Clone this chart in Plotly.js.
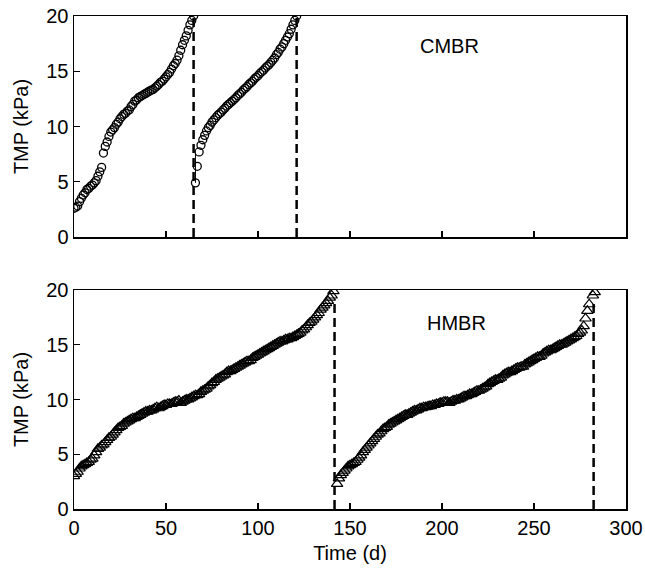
<!DOCTYPE html>
<html><head><meta charset="utf-8">
<script src="https://cdn.plot.ly/plotly-3.0.1.min.js"></script>
<style>body{margin:0;background:#fff}#chart{width:645px;height:571px}</style>
</head><body><div id="chart"></div>
<script>
// CMBR (top panel) – circles, two filtration cycles
const cmbrDay1 = [0,1,2,3,4,5,6,7,8,9,10,11,12,13,14,15,16,17,18,19,20,21,22,23,24,25,26,27,28,29,30,31,32,33,34,35,36,37,38,39,40,41,42,43,44,45,46,47,48,49,50,51,52,53,54,55,56,57,58,59,60,61,62,63,64,65];
const cmbrTmp1 = [2.6,2.7,2.8,3.2,3.5,3.8,4.0,4.3,4.4,4.6,4.7,4.9,5.1,5.5,5.9,6.3,7.6,8.2,8.6,9.1,9.5,9.7,9.9,10.2,10.4,10.7,10.9,11.1,11.2,11.4,11.5,11.8,12.0,12.3,12.4,12.6,12.7,12.8,12.9,13.0,13.1,13.2,13.3,13.35,13.5,13.65,13.8,14.0,14.1,14.3,14.5,14.7,14.9,15.2,15.5,15.7,16.0,16.4,16.9,17.4,17.8,18.2,18.7,19.2,19.6,20.0];
const cmbrDay2 = [66,67,68,69,70,71,72,73,74,75,76,77,78,79,80,81,82,83,84,85,86,87,88,89,90,91,92,93,94,95,96,97,98,99,100,101,102,103,104,105,106,107,108,109,110,111,112,113,114,115,116,117,118,119,120,121];
const cmbrTmp2 = [4.9,6.4,7.7,8.3,8.8,9.2,9.6,9.9,10.1,10.4,10.6,10.8,11.0,11.15,11.3,11.5,11.65,11.85,12.0,12.15,12.3,12.45,12.6,12.8,12.95,13.1,13.3,13.45,13.6,13.8,13.95,14.1,14.3,14.45,14.6,14.8,14.95,15.1,15.3,15.45,15.6,15.8,16.0,16.2,16.5,16.7,17.0,17.2,17.5,17.8,18.1,18.4,18.8,19.2,19.6,20.0];
const cmbrCleanDays = [65, 121];
const cmbrJumpX = [66, 66];
const cmbrJumpY = [4.9, 7.6];

// HMBR (bottom panel) – triangles, two filtration cycles (daily)
const hmbrDay1 = [0,1,2,3,4,5,6,7,8,9,10,11,12,13,14,15,16,17,18,19,20,21,22,23,24,25,26,27,28,29,30,31,32,33,34,35,36,37,38,39,40,41,42,43,44,45,46,47,48,49,50,51,52,53,54,55,56,57,58,59,60,61,62,63,64,65,66,67,68,69,70,71,72,73,74,75,76,77,78,79,80,81,82,83,84,85,86,87,88,89,90,91,92,93,94,95,96,97,98,99,100,101,102,103,104,105,106,107,108,109,110,111,112,113,114,115,116,117,118,119,120,121,122,123,124,125,126,127,128,129,130,131,132,133,134,135,136,137,138,139,140,141];
const hmbrTmp1 = [3.0,3.2,3.4,3.7,3.9,4.0,4.1,4.2,4.3,4.5,4.6,4.9,5.2,5.5,5.6,5.8,5.9,6.1,6.3,6.5,6.6,6.8,7.0,7.2,7.4,7.5,7.6,7.8,7.9,8.0,8.1,8.2,8.3,8.3,8.4,8.5,8.6,8.7,8.8,8.9,8.9,9.0,9.0,9.1,9.2,9.3,9.2,9.3,9.4,9.5,9.5,9.6,9.6,9.6,9.7,9.8,9.8,9.9,9.7,9.8,9.9,10.0,10.0,10.1,10.2,10.3,10.4,10.4,10.5,10.7,10.8,10.9,11.0,11.2,11.3,11.5,11.6,11.8,11.9,12.0,12.1,12.2,12.3,12.5,12.6,12.6,12.7,12.8,12.9,13.0,13.1,13.2,13.3,13.4,13.5,13.5,13.6,13.8,13.9,14.0,14.1,14.2,14.3,14.4,14.5,14.6,14.7,14.8,14.9,15.0,15.1,15.2,15.3,15.3,15.4,15.5,15.5,15.6,15.6,15.7,15.8,15.9,16.0,16.1,16.3,16.4,16.6,16.8,17.0,17.1,17.3,17.5,17.7,17.9,18.2,18.4,18.6,18.8,19.0,19.3,19.5,19.9];
const hmbrDay2 = [143,144,145,146,147,148,149,150,151,152,153,154,155,156,157,158,159,160,161,162,163,164,165,166,167,168,169,170,171,172,173,174,175,176,177,178,179,180,181,182,183,184,185,186,187,188,189,190,191,192,193,194,195,196,197,198,199,200,201,202,203,204,205,206,207,208,209,210,211,212,213,214,215,216,217,218,219,220,221,222,223,224,225,226,227,228,229,230,231,232,233,234,235,236,237,238,239,240,241,242,243,244,245,246,247,248,249,250,251,252,253,254,255,256,257,258,259,260,261,262,263,264,265,266,267,268,269,270,271,272,273,274,275,276,277,278,279,280,282,283];
const hmbrTmp2 = [2.3,2.8,3.1,3.3,3.5,3.7,3.9,4.0,4.1,4.2,4.3,4.5,4.7,4.9,5.2,5.4,5.6,5.8,6.0,6.2,6.4,6.6,6.8,6.9,7.1,7.3,7.4,7.5,7.7,7.8,7.9,8.0,8.1,8.2,8.3,8.4,8.5,8.6,8.6,8.7,8.8,8.9,9.0,9.0,9.1,9.2,9.2,9.3,9.3,9.35,9.4,9.4,9.5,9.5,9.6,9.6,9.7,9.7,9.8,9.8,9.8,9.7,9.8,9.9,9.9,10.0,10.0,10.1,10.2,10.3,10.3,10.4,10.5,10.5,10.6,10.7,10.8,10.8,10.9,11.0,11.1,11.2,11.4,11.5,11.6,11.7,11.8,11.8,11.9,12.0,12.2,12.3,12.4,12.5,12.5,12.6,12.7,12.8,12.9,12.9,13.0,13.0,13.2,13.3,13.4,13.5,13.6,13.7,13.8,13.9,13.9,14.0,14.2,14.3,14.4,14.5,14.5,14.6,14.7,14.8,14.9,15.0,15.0,15.1,15.2,15.3,15.4,15.5,15.6,15.7,15.8,16.0,16.1,16.3,16.7,17.4,18.1,18.7,19.5,19.8];
const hmbrCleanDays = [141.6, 282.4];

const xTicks = [0,50,100,150,200,250,300];
const yTicks = [0,5,10,15,20];

const FONT = 'Liberation Sans, Arial, Helvetica, sans-serif';
const circ = {symbol:'circle-open', size:8, color:'#000', line:{width:1.3, color:'#000'}};
const tri = {symbol:'triangle-up-open', size:10, color:'#000', line:{width:1.2, color:'#000'}};
const dash = {color:'#000', width:2.5, dash:'9px,5px'};

const traces = [];
cmbrCleanDays.forEach(d => traces.push({x:[d,d], y:[0,20], mode:'lines', line:dash, xaxis:'x', yaxis:'y', hoverinfo:'skip'}));
hmbrCleanDays.forEach(d => traces.push({x:[d,d], y:[0,19], mode:'lines', line:dash, xaxis:'x2', yaxis:'y2', hoverinfo:'skip'}));
traces.push({x:cmbrJumpX, y:cmbrJumpY, mode:'lines', line:{color:'#000', width:1}, xaxis:'x', yaxis:'y'});
traces.push({x:cmbrDay1, y:cmbrTmp1, mode:'markers', marker:circ, xaxis:'x', yaxis:'y'});
traces.push({x:cmbrDay2, y:cmbrTmp2, mode:'markers', marker:circ, xaxis:'x', yaxis:'y'});
traces.push({x:hmbrDay1, y:hmbrTmp1, mode:'markers', marker:tri, xaxis:'x2', yaxis:'y2'});
traces.push({x:hmbrDay2, y:hmbrTmp2, mode:'markers', marker:tri, xaxis:'x2', yaxis:'y2'});

const axBase = {showgrid:false, zeroline:false, showline:true, linecolor:'#000', linewidth:1.5, mirror:true,
  ticks:'inside', ticklen:6, tickwidth:1.2, tickcolor:'#000', tickfont:{family:FONT, size:20, color:'#000'}};

const layout = {
  width:645, height:571, showlegend:false,
  paper_bgcolor:'#fff', plot_bgcolor:'#fff',
  margin:{l:74, r:19, t:16, b:62},
  font:{family:FONT, color:'#000'},
  xaxis: Object.assign({}, axBase, {range:[0,300], tickvals:xTicks, showticklabels:false, anchor:'y'}),
  yaxis: Object.assign({}, axBase, {range:[0,20], tickvals:yTicks, domain:[0.5517,1], anchor:'x',
    title:{text:'TMP (kPa)', font:{family:FONT, size:20, color:'#000'}, standoff:12}}),
  xaxis2: Object.assign({}, axBase, {range:[0,300], tickvals:xTicks, anchor:'y2',
    title:{text:'Time (d)', font:{family:FONT, size:20, color:'#000'}, standoff:8}}),
  yaxis2: Object.assign({}, axBase, {range:[0,20], tickvals:yTicks, domain:[0,0.4442], anchor:'x2',
    title:{text:'TMP (kPa)', font:{family:FONT, size:20, color:'#000'}, standoff:12}}),
  annotations:[
    {text:'CMBR', xref:'x', yref:'y', x:204, y:17.3, showarrow:false, font:{family:FONT, size:20, color:'#000'}},
    {text:'HMBR', xref:'x2', yref:'y2', x:208, y:16.95, showarrow:false, font:{family:FONT, size:20, color:'#000'}}
  ]
};

Plotly.newPlot('chart', traces, layout, {staticPlot:true, displayModeBar:false});
</script></body></html>
